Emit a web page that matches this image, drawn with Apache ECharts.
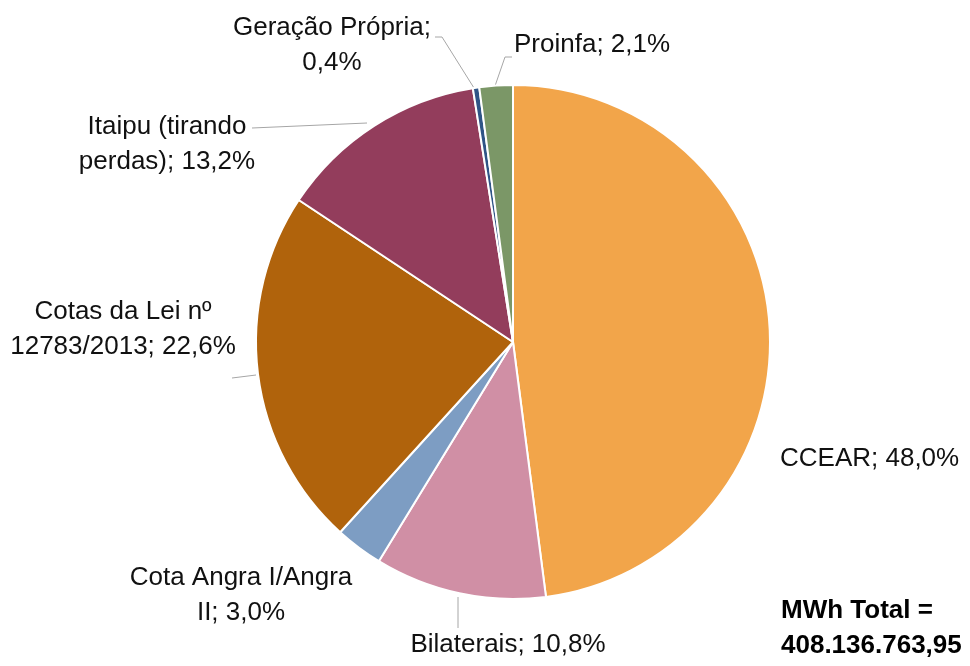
<!DOCTYPE html>
<html>
<head>
<meta charset="utf-8">
<script src="https://cdn.jsdelivr.net/npm/echarts@6/dist/echarts.min.js"></script>
<style>
  html, body { margin: 0; padding: 0; background: #fff; }
  #main { width: 970px; height: 666px; }
</style>
</head>
<body>
<div id="main"></div>
<script>
// fatias em ordem horária a partir das 12h
const categories = ['CCEAR', 'Bilaterais', 'Cota Angra I/Angra II', 'Cotas da Lei nº 12783/2013',
  'Itaipu (tirando perdas)', 'Geração Própria', 'Proinfa'];
const shares = [48.0, 10.8, 3.0, 22.6, 13.2, 0.4, 2.1];
const labelTexts = ['CCEAR; 48,0%', 'Bilaterais; 10,8%', 'Cota Angra I/Angra\nII; 3,0%',
  'Cotas da Lei nº\n12783/2013; 22,6%', 'Itaipu (tirando\nperdas); 13,2%', 'Geração Própria;\n0,4%', 'Proinfa; 2,1%'];
const colors = ['#F2A54A', '#D08FA5', '#7D9DC3', '#B0630C', '#933D5C', '#2F5486', '#7B9767'];
const totalText = 'MWh Total =\n408.136.763,95';

const FONT = "'Liberation Sans Narrow', 'Arial Narrow', 'Liberation Sans', sans-serif";

// posição dos rótulos: [x, y, align, linha]
const labelPos = [
  [780, 459, 'left', null],
  [508, 645, 'center', [[458, 628], [458, 597]]],
  [241, 595, 'center', null],
  [123, 329, 'center', [[232, 378], [256, 375]]],
  [167, 144, 'center', [[252, 128], [367, 123]]],
  [332, 45, 'center', [[435, 37], [442, 37], [474, 88]]],
  [514, 45, 'left', [[512, 57], [505, 57], [495, 86]]]
];

const chart = echarts.init(document.getElementById('main'));

chart.setOption({
  animation: false,
  color: colors,
  graphic: [{
    type: 'text',
    left: 781,
    top: 593,
    style: {
      text: totalText,
      font: 'bold 26px ' + FONT,
      fill: '#000',
      lineHeight: 35
    }
  }],
  series: [{
    type: 'pie',
    center: [513, 342],
    radius: [0, 257],
    startAngle: 90,
    clockwise: true,
    itemStyle: { borderColor: '#fff', borderWidth: 2 },
    label: {
      show: true,
      formatter: p => labelTexts[p.dataIndex],
      color: '#111',
      fontFamily: FONT,
      fontSize: 26,
      lineHeight: 35,
      overflow: 'none',
      width: 400
    },
    labelLine: { show: true, lineStyle: { color: '#A6A6A6', width: 1 } },
    labelLayout: params => {
      const lp = labelPos[params.dataIndex];
      const out = { x: lp[0], y: lp[1], align: lp[2], verticalAlign: 'middle' };
      if (lp[3]) out.labelLinePoints = lp[3];
      return out;
    },
    data: categories.map((name, i) => ({
      name: name,
      value: shares[i],
      labelLine: { show: labelPos[i][3] !== null }
    }))
  }]
});
</script>
</body>
</html>
